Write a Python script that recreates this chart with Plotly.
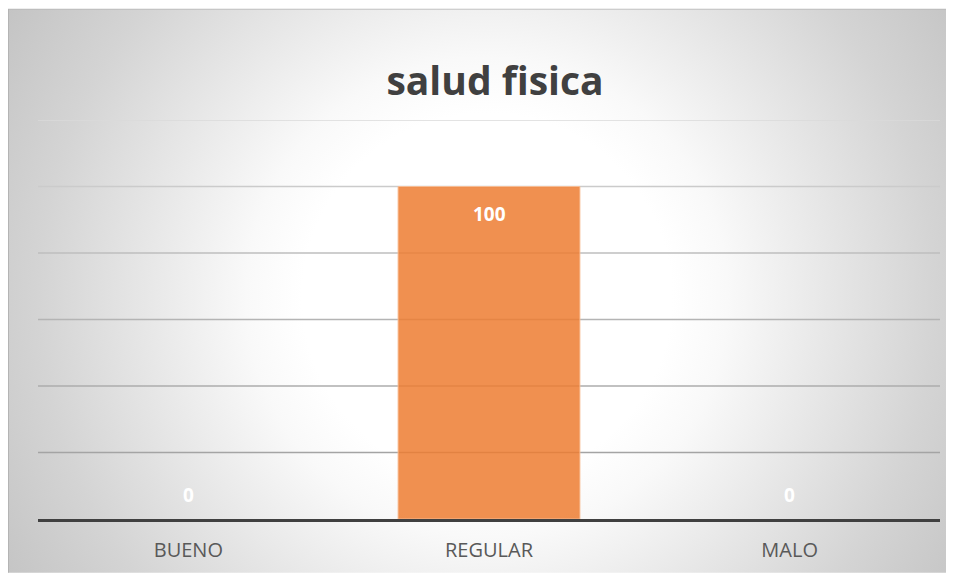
import base64
import plotly.graph_objects as go

# ---- data ----
categories = ["BUENO", "REGULAR", "MALO"]
values = [0, 100, 0]
grid_values = [20, 40, 60, 80, 100, 120]
title_text = "salud fisica"

# ---- styles ----
W, H = 946, 567
ML, MR, MT, MB = 30, 14, 112, 54
PW, PH = W - ML - MR, H - MT - MB
grid_colors = ["#a4a4a4", "#acacac", "#b4b4b4", "#bebebe", "#cbcbcb", "#dadada"]

svg = f'''<svg xmlns="http://www.w3.org/2000/svg" width="{W}" height="{H}" viewBox="0 0 {W} {H}">
<defs><radialGradient id="g" gradientUnits="userSpaceOnUse" cx="479" cy="290" r="560">
<stop offset="0" stop-color="#ffffff"/><stop offset="0.33" stop-color="#ffffff"/>
<stop offset="0.43" stop-color="#f9f9f9"/><stop offset="0.52" stop-color="#f0f0f0"/>
<stop offset="0.64" stop-color="#e4e4e4"/><stop offset="0.80" stop-color="#d4d4d4"/>
<stop offset="1" stop-color="#c4c4c4"/></radialGradient></defs>
<rect x="0" y="0" width="{W}" height="{H}" fill="#ffffff"/>
<rect x="0.5" y="0.5" width="{W+20}" height="{H+20}" fill="url(#g)" stroke="#b4b4b4" stroke-width="1"/>
</svg>'''
src = "data:image/svg+xml;base64," + base64.b64encode(svg.encode()).decode()

fig = go.Figure()
fig.add_trace(go.Bar(
    x=categories, y=values,
    marker=dict(color="rgba(237,125,49,0.85)",
                line=dict(color="rgba(248,190,150,0.9)", width=[1 if v > 0 else 0 for v in values])),
    hoverinfo="skip",
))

for v, c in zip(grid_values, grid_colors):
    fig.add_shape(type="line", xref="paper", yref="y", x0=0, x1=1, y0=v, y1=v,
                  line=dict(color=c, width=1.6), layer="below")

for cat, v in zip(categories, values):
    fig.add_annotation(x=cat, y=v, text=f"<b>{v}</b>", showarrow=False,
                       yshift=-27 if v > 0 else 24,
                       font=dict(family="Open Sans", size=19, color="#ffffff"))

fig.add_layout_image(dict(source=src, xref="paper", yref="paper",
                          x=-ML / PW, y=(PH + MT) / PH, sizex=W / PW, sizey=H / PH,
                          xanchor="left", yanchor="top", sizing="stretch", layer="below"))

fig.update_layout(
    width=W, height=H,
    margin=dict(l=ML, r=MR, t=MT, b=MB),
    paper_bgcolor="#ffffff", plot_bgcolor="rgba(0,0,0,0)",
    showlegend=False, bargap=0.395,
    title=dict(text=f"<b>{title_text}</b>", xref="paper", x=(487 - ML) / PW, xanchor="center",
               yref="container", y=1 - 73 / H, yanchor="middle",
               font=dict(family="Open Sans", size=39, color="#404040")),
    xaxis=dict(showline=True, linecolor="#404040", linewidth=3, ticks="",
               tickfont=dict(family="Open Sans", size=20, color="#595959"),
               ticklabelstandoff=11, showgrid=False, zeroline=False, fixedrange=True),
    yaxis=dict(range=[0, 120], showgrid=False, zeroline=False, showticklabels=False,
               fixedrange=True),
)

fig.write_html("out.html")
